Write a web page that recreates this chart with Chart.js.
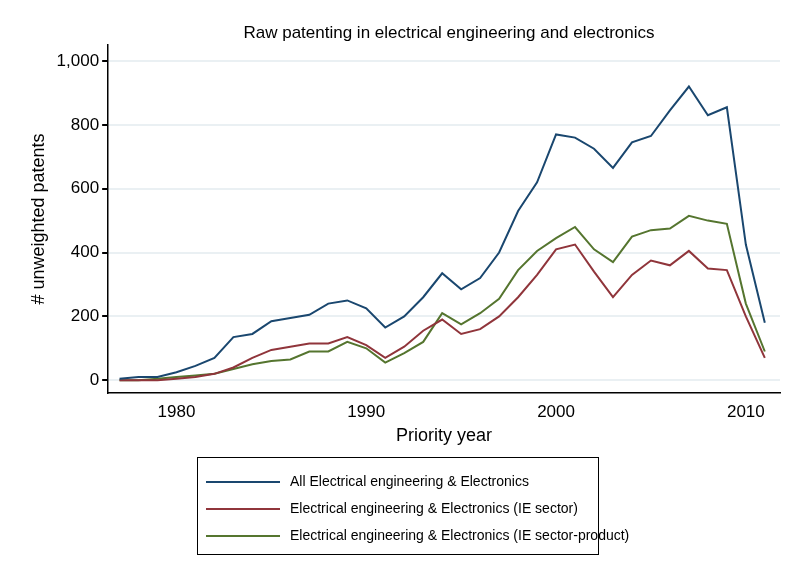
<!DOCTYPE html>
<html><head><meta charset="utf-8">
<script src="https://cdn.jsdelivr.net/npm/chart.js@4"></script>
<style>
body{margin:0;background:#fff;font-family:"Liberation Sans",Arial,sans-serif}
#wrap{position:relative;width:800px;height:582px}
#title{position:absolute;left:118px;width:662px;top:23px;text-align:center;font-size:17px;color:#000}
#legend{position:absolute;left:197px;top:457px;width:402px;height:98px;border:1px solid #000;box-sizing:border-box;font-size:14px;color:#000}
#legend div{position:absolute;left:8px;height:20px;line-height:20px;white-space:nowrap}
#legend span{display:inline-block;width:74px;height:2px;vertical-align:middle;margin-right:10px}
</style></head>
<body><div id="wrap"><canvas id="c" width="800" height="582"></canvas>
<div id="title">Raw patenting in electrical engineering and electronics</div>
<div id="legend"></div></div>
<script>
years = []
for (y = 1977; y <= 2011; y++) years.push(y)
allEE = [5,10,10,25,45,70,135,145,185,195,205,240,250,225,165,200,260,335,285,320,400,530,620,770,760,725,665,745,765,845,920,830,855,425,180]
ieSector = [0,0,0,5,10,20,40,70,95,105,115,115,135,110,70,105,155,190,145,160,200,260,330,410,425,340,260,330,375,360,405,350,345,200,70]
ieSectorProduct = [0,0,5,10,15,20,35,50,60,65,90,90,120,100,55,85,120,210,175,210,255,345,405,445,480,410,370,450,470,475,515,500,490,240,90]
names = ["All Electrical engineering & Electronics","Electrical engineering & Electronics (IE sector)","Electrical engineering & Electronics (IE sector-product)"]
colors = ["#1a476f","#90353b","#55752f"]
yTicks = [0,200,400,600,800,1000]
xTicks = [1980,1990,2000,2010]

series = [allEE, ieSector, ieSectorProduct]
datasets = series.map((s, i) => ({
    label: names[i],
    data: s.map((v, j) => ({x: years[j], y: v})),
    borderColor: colors[i], borderWidth: 2, pointRadius: 0, tension: 0, fill: false
}))

leg = document.getElementById("legend")
names.forEach((n, i) => {
    d = document.createElement("div")
    d.style.top = (13 + i * 27) + "px"
    d.innerHTML = '<span style="background:' + colors[i] + '"></span>' + n.replace(/&/g, "&amp;")
    leg.appendChild(d)
})

font = {family: "'Liberation Sans', Arial, sans-serif", size: 17}
new Chart(document.getElementById("c"), {
    type: 'line',
    data: {datasets: datasets},
    options: {
        responsive: false, animation: false,
        layout: {padding: {left: 24, right: 20, top: 45, bottom: 135}},
        plugins: {legend: {display: false}},
        scales: {
            x: {
                type: 'linear', min: 1976.4, max: 2011.8,
                afterBuildTicks: a => { a.ticks = xTicks.map(v => ({value: v})) },
                ticks: {color: '#000', font: font, callback: v => String(v)},
                grid: {display: false, drawTicks: true, tickLength: 6, color: '#000'},
                border: {color: '#000', width: 1.5},
                title: {display: true, text: 'Priority year', color: '#000', font: {family: font.family, size: 18}, padding: 0}
            },
            y: {
                min: -40, max: 1050,
                afterBuildTicks: a => { a.ticks = yTicks.map(v => ({value: v})) },
                ticks: {color: '#000', font: font, callback: v => v.toLocaleString('en-US')},
                grid: {color: '#eaf0f3', lineWidth: 2, tickColor: '#000', tickLength: 6},
                border: {color: '#000', width: 1.5},
                title: {display: true, text: '# unweighted patents', color: '#000', font: {family: font.family, size: 18}}
            }
        }
    }
})
</script></body></html>
